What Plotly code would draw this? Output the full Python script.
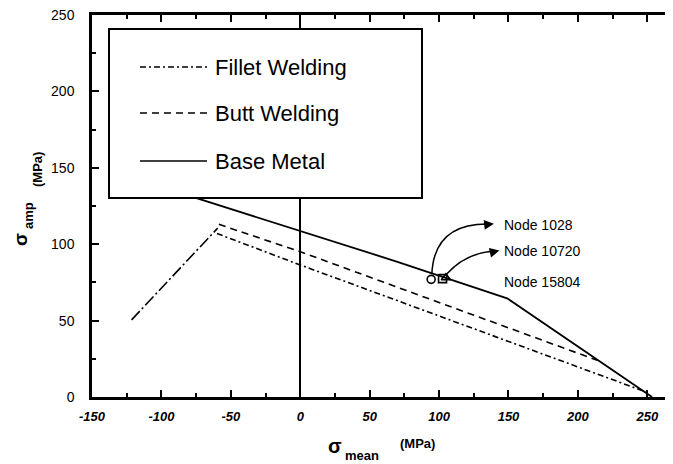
import plotly.graph_objects as go

# ---- data ----
base_x = [-90, 0, 70, 149, 253.4]
base_y = [134.5, 108.6, 88.5, 64.6, 0]
butt_x = [-58.6, 0, 214]
butt_y = [113, 95.1, 24]
fillet_x = [-60, 0, 250]
fillet_y = [107, 86.4, 3]
compress_x = [-121.5, -59.5]
compress_y = [50.5, 110.5]
node_names = ["Node 1028", "Node 10720", "Node 15804"]
node_x = [94.3, 102.5, 104.9]
node_y = [77.0, 77.5, 78.0]
node_symbols = ["circle-open", "square-open", "triangle-up-open"]
x_ticks = [-150, -100, -50, 0, 50, 100, 150, 200, 250]
y_ticks = [0, 50, 100, 150, 200, 250]
legend_names = ["Fillet Welding", "Butt Welding", "Base Metal"]

FONT = "Liberation Sans, Arial, sans-serif"
DASH_FILLET = "6px,3px,2px,3px"
DASH_BUTT = "7px,5px"
DASH_COMP = "12px,3px,2px,3px"

# page has an 8px body margin: figure is shifted by OFF
OFF = 8
PAGE_W, PAGE_H = 673, 464
W, H = PAGE_W - OFF, PAGE_H - OFF
# plot area in page pixels
L, T, R, B = 92, 15, 673, 397


def px(xp):
    return (xp - L) / (R - L)


def py(yp):
    return (B - yp) / (B - T)


fig = go.Figure()
fig.add_trace(go.Scatter(x=compress_x, y=compress_y, mode="lines",
                         line=dict(color="black", width=1.6, dash=DASH_COMP)))
fig.add_trace(go.Scatter(x=fillet_x, y=fillet_y, mode="lines",
                         line=dict(color="black", width=1.6, dash=DASH_FILLET)))
fig.add_trace(go.Scatter(x=butt_x, y=butt_y, mode="lines",
                         line=dict(color="black", width=1.6, dash=DASH_BUTT)))
fig.add_trace(go.Scatter(x=base_x, y=base_y, mode="lines",
                         line=dict(color="black", width=1.8)))
for i in range(3):
    fig.add_trace(go.Scatter(x=[node_x[i]], y=[node_y[i]], mode="markers",
                             marker=dict(symbol=node_symbols[i], size=8, color="black",
                                         line=dict(color="black", width=1.6))))

shapes = []
annotations = []

# curved arrows from markers to node labels
shapes.append(dict(type="path", xref="x", yref="y",
                   path="M 94.8,80.5 Q 96.5,114.5 137.5,113.2",
                   line=dict(color="black", width=1.5)))
shapes.append(dict(type="path", xref="x", yref="y",
                   path="M 105.5,80.5 Q 120,95 141.5,95.6",
                   line=dict(color="black", width=1.5)))
annotations.append(dict(x=139.5, y=113.4, xref="x", yref="y", text="", showarrow=True,
                        ax=-9, ay=1, arrowhead=2, arrowsize=1.3, arrowwidth=1.5,
                        arrowcolor="black"))
annotations.append(dict(x=143.5, y=95.8, xref="x", yref="y", text="", showarrow=True,
                        ax=-9, ay=2, arrowhead=2, arrowsize=1.3, arrowwidth=1.5,
                        arrowcolor="black"))
node_label_y = [112.6, 95.7, 75.3]
for name, yy in zip(node_names, node_label_y):
    annotations.append(dict(x=145.5, y=yy, xref="x", yref="y", text=name, showarrow=False,
                            xanchor="left", yanchor="middle",
                            font=dict(family=FONT, size=14, color="black")))

# custom legend box
shapes.append(dict(type="rect", xref="paper", yref="paper", layer="above",
                   x0=px(109), x1=px(422), y0=py(198), y1=py(29),
                   fillcolor="white", line=dict(color="black", width=2)))
legend_dash = [DASH_FILLET, DASH_BUTT, "solid"]
legend_y = [67, 113, 161]
for name, dsh, yl in zip(legend_names, legend_dash, legend_y):
    shapes.append(dict(type="line", xref="paper", yref="paper", layer="above",
                       x0=px(140), x1=px(207), y0=py(yl), y1=py(yl),
                       line=dict(color="black", width=1.6, dash=dsh)))
    annotations.append(dict(x=px(213), y=py(yl), xref="paper", yref="paper", text=name,
                            showarrow=False, xanchor="left", yanchor="middle",
                            font=dict(family=FONT, size=22, color="black")))


def title_text(x, y, text, size, angle=0):
    return dict(x=px(x), y=py(y), xref="paper", yref="paper", text=text, showarrow=False,
                xanchor="center", yanchor="middle", textangle=angle,
                font=dict(family=FONT, size=size, color="black"))


# axis titles
annotations += [
    title_text(335, 446, "<b>σ</b>", 20),
    title_text(362, 455, "<b>mean</b>", 13),
    title_text(417, 443, "<b>(MPa)</b>", 13),
    title_text(20, 240, "<b>σ</b>", 19, -90),
    title_text(28, 216, "<b>amp</b>", 13, -90),
    title_text(37, 170, "<b>(MPa)</b>", 13, -90),
]

fig.update_layout(
    width=W, height=H,
    margin=dict(l=L - OFF, r=PAGE_W - R, t=T - OFF, b=PAGE_H - B),
    paper_bgcolor="white", plot_bgcolor="white",
    showlegend=False,
    shapes=shapes, annotations=annotations,
    font=dict(family=FONT, color="black"),
)
fig.update_xaxes(range=[-150, 268.5], tickvals=x_ticks, ticktext=[str(v) for v in x_ticks],
                 ticks="inside", ticklen=7, tickwidth=2, tickcolor="black",
                 showline=True, linewidth=2.5, linecolor="black", mirror="ticks",
                 showgrid=False, zeroline=True, zerolinecolor="black", zerolinewidth=1.6,
                 minor=dict(dtick=25, ticks="inside", ticklen=4, tickwidth=1.5, tickcolor="black"),
                 tickfont=dict(family=FONT, size=13, style="italic", weight="bold", color="black"),
                 ticklabelstandoff=6)
fig.update_yaxes(range=[0, 250], tickvals=y_ticks, ticktext=[str(v) for v in y_ticks],
                 ticks="inside", ticklen=7, tickwidth=2, tickcolor="black",
                 showline=True, linewidth=2.5, linecolor="black",
                 showgrid=False, zeroline=False, ticklabeloverflow="allow",
                 minor=dict(dtick=25, ticks="inside", ticklen=4, tickwidth=1.5, tickcolor="black"),
                 tickfont=dict(family=FONT, size=14, color="black"),
                 ticklabelstandoff=12)

fig.write_html("out.html")
